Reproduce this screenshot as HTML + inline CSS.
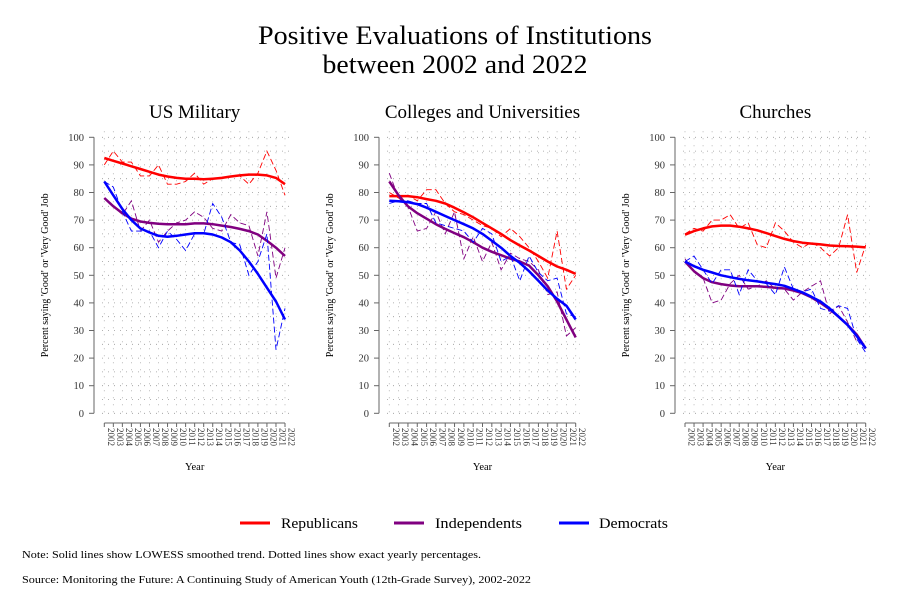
<!DOCTYPE html>
<html><head><meta charset="utf-8">
<style>
html,body{margin:0;padding:0;background:#fff;}
svg{display:block;font-family:"Liberation Serif",serif;}
</style></head>
<body>
<svg id="chart" width="911" height="611" viewBox="0 0 911 611" xmlns="http://www.w3.org/2000/svg">
<text x="455" y="44" font-size="26" text-anchor="middle" textLength="394" lengthAdjust="spacingAndGlyphs">Positive Evaluations of Institutions</text>
<text x="455" y="73" font-size="26" text-anchor="middle" textLength="265" lengthAdjust="spacingAndGlyphs">between 2002 and 2022</text>
<g id="panels"></g>
<g>
<line x1="240" y1="523" x2="270" y2="523" stroke="#f00" stroke-width="3"/>
<text x="281" y="528" font-size="15" textLength="77" lengthAdjust="spacingAndGlyphs">Republicans</text>
<line x1="394" y1="523" x2="424" y2="523" stroke="#800080" stroke-width="3"/>
<text x="435" y="528" font-size="15" textLength="87" lengthAdjust="spacingAndGlyphs">Independents</text>
<line x1="559" y1="523" x2="589" y2="523" stroke="#00f" stroke-width="3"/>
<text x="599" y="528" font-size="15" textLength="69" lengthAdjust="spacingAndGlyphs">Democrats</text>
</g>
<text x="22" y="558" font-size="10.5" textLength="459" lengthAdjust="spacingAndGlyphs">Note: Solid lines show LOWESS smoothed trend. Dotted lines show exact yearly percentages.</text>
<text x="22" y="583" font-size="10.5" textLength="509" lengthAdjust="spacingAndGlyphs">Source: Monitoring the Future: A Continuing Study of American Youth (12th-Grade Survey), 2002-2022</text>
</svg>
<script>
const years=[2002,2003,2004,2005,2006,2007,2008,2009,2010,2011,2012,2013,2014,2015,2016,2017,2018,2019,2020,2021,2022];
const yTicks=[0,10,20,30,40,50,60,70,80,90,100];
const panelTitles=["US Military","Colleges and Universities","Churches"];
const milRep=[90,95,91,91,86,86,90,83,83,84,87,83,85,85,86,86,83,87,95,88,79];
const milRepS=[92.5,91.5,90.5,89.5,88.5,87.5,86.5,85.8,85.3,85,85,84.8,85,85.3,85.8,86.2,86.5,86.5,86.2,85.3,83];
const milInd=[78,75,72,77,66,70,62,66,69,70,73,71,67,66,72,69,68,57,73,49,60];
const milIndS=[78,75,72.5,70.5,69.5,69,68.7,68.5,68.5,68.5,68.8,68.8,68.5,68,67.5,66.8,66,64.8,62.5,60,57];
const milDem=[84,82,73,66,66,66,60,66,63,59,65,65,76,71,62,61,50,55,65,23,38];
const milDemS=[84,79,74,70,67,65.5,64.3,64,64.3,64.8,65.2,65.2,64.8,63.7,62,59,55,50.5,45.5,40.5,34];
const colRep=[80,78,79,77,81,81,76,73,72,70,68,67,64,67,64,60,55,49,66,45,50];
const colRepS=[78.7,78.7,78.7,78.3,77.6,77,76,74.5,72.8,71,69,67,65,62.7,60.8,59,57,55,53.2,52,50.5];
const colInd=[87,78,75,66,67,73,65,73,56,64,55,62,52,58,56,55,52,43,44,28,31];
const colIndS=[84,79,75,72.5,70.5,68.5,66.8,65.3,63.8,62,60,58.5,57.3,56,55,53.5,50,46,40.5,34,27.5];
const colDem=[76,77,77,76,76,69,68,67,66,62,67,65,55,57,48,57,51,48,49,36,35];
const colDemS=[77,76.8,76.5,75.8,74.5,73,71.5,70,68.5,67,65,62.5,60,57,54.5,51.5,48,44.5,41.5,39,34];
const chuRep=[65,67,66,70,70,72,67,69,61,60,69,66,62,60,62,60,57,60,72,51,61];
const chuRepS=[64.7,66,67,67.7,68,68,67.6,67,66.3,65.3,64.2,63.2,62.4,61.8,61.5,61.2,60.8,60.6,60.5,60.4,60.1];
const chuInd=[56,51,49,40,41,47,50,45,46,48,45,45,41,44,46,48,36,39,33,26,25];
const chuIndS=[55,51.5,49,47.5,46.8,46.3,46,46,46,45.8,45.5,45.2,44.5,43.5,42,40,37.7,35,32,28.5,23.5];
const chuDem=[55,57,52,47,52,52,43,52,48,47,43,53,45,44,45,38,37,39,38,27,22];
const chuDemS=[55,53.3,52,51,50,49.3,48.7,48.2,47.8,47.3,46.8,46.2,45,43.8,42.2,40.5,38,35,32,28,23.5];

const NS="http://www.w3.org/2000/svg";
const root=document.getElementById('panels');
function mk(tag,attrs,parent){const e=document.createElementNS(NS,tag);for(const k in attrs)e.setAttribute(k,attrs[k]);parent.appendChild(e);return e;}
const panels=[
 {axis:94,x0:104.3,x1:285,data:[[milRep,milRepS,'#f00','republicans'],[milInd,milIndS,'#800080','independents'],[milDem,milDemS,'#00f','democrats']]},
 {axis:379,x0:389.3,x1:575.7,data:[[colRep,colRepS,'#f00','republicans'],[colInd,colIndS,'#800080','independents'],[colDem,colDemS,'#00f','democrats']]},
 {axis:675,x0:685,x1:865.7,data:[[chuRep,chuRepS,'#f00','republicans'],[chuInd,chuIndS,'#800080','independents'],[chuDem,chuDemS,'#00f','democrats']]}
];
const yTop=137.3,yBot=413.3;
function yS(v){return yBot-(v/100)*(yBot-yTop);}
panels.forEach((p,pi)=>{
 const g=mk('g',{},root);
 
 
 const xS=yr=>p.x0+(yr-years[0])/(years[years.length-1]-years[0])*(p.x1-p.x0);
 const cx=(p.x0+p.x1)/2;
 const t=mk('text',{x:cx,y:118,'font-size':19,'text-anchor':'middle'},g);
 
 
 t.textContent=panelTitles[pi];
 for(let v=0;v<=100;v+=5){
  const l=mk('line',{x1:p.axis+8,x2:p.x1+4,y1:yS(v),y2:yS(v),stroke:'#999','stroke-width':0.8,'stroke-dasharray':'1 5'},g);
  
  
 }
 years.forEach(yr=>{
  const l=mk('line',{x1:xS(yr),x2:xS(yr),y1:yTop-6,y2:yBot,stroke:'#aaa','stroke-width':0.8,'stroke-dasharray':'1 6'},g);
  
  
 });
 const ya=mk('line',{x1:p.axis,x2:p.axis,y1:yTop,y2:yBot,stroke:'#666','stroke-width':1},g);
 
 
 yTicks.forEach(v=>{
  mk('line',{x1:p.axis-5,x2:p.axis,y1:yS(v),y2:yS(v),stroke:'#666'},g);
  const tl=mk('text',{x:p.axis-10,y:yS(v)+3.5,'font-size':10.5,'text-anchor':'end',fill:'#333'},g);
  
  
  tl.textContent=v;
 });
 const yt=mk('text',{transform:`translate(${p.axis-46},${(yTop+yBot)/2}) rotate(-90)`,'font-size':10,'text-anchor':'middle'},g);
 
 
 yt.textContent="Percent saying 'Good' or 'Very Good' Job";
 const xa=mk('line',{x1:p.x0,x2:p.x1,y1:423,y2:423,stroke:'#666'},g);
 
 
 years.forEach(yr=>{
  mk('line',{x1:xS(yr),x2:xS(yr),y1:423,y2:427,stroke:'#666'},g);
  const tl=mk('text',{transform:`translate(${xS(yr)+3.5},${428}) rotate(90)`,'font-size':9,'text-anchor':'start',fill:'#333'},g);
  
  
  tl.textContent=yr;
 });
 const xt=mk('text',{x:cx,y:470,'font-size':10.5,'text-anchor':'middle'},g);
 
 
 xt.textContent='Year';
 p.data.forEach(([raw,sm,col,nm])=>{
  const d1=raw.map((v,i)=>(i?'L':'M')+xS(years[i]).toFixed(1)+','+yS(v).toFixed(1)).join('');
  const r=mk('path',{d:d1,fill:'none',stroke:col,'stroke-width':0.9,'stroke-dasharray':'6 3'},g);
  
  
  const d2=sm.map((v,i)=>(i?'L':'M')+xS(years[i]).toFixed(1)+','+yS(v).toFixed(1)).join('');
  const s=mk('path',{d:d2,fill:'none',stroke:col,'stroke-width':2.5,'stroke-linejoin':'round'},g);
  
  
 });
});
</script>
</body></html>
